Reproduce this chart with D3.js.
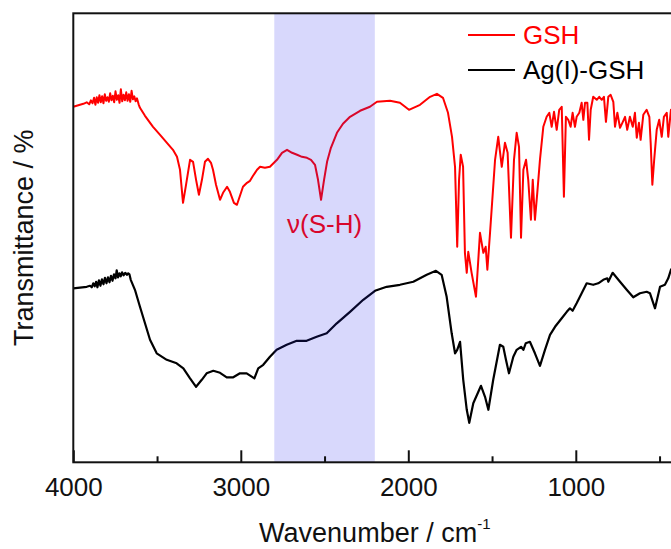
<!DOCTYPE html>
<html>
<head>
<meta charset="utf-8">
<title></title>
<script src="https://cdn.jsdelivr.net/npm/d3@7/dist/d3.min.js"></script>
<style>
  body { margin: 0; background: #fff; }
  svg { display: block; }
  text { font-family: "Liberation Sans", Arial, sans-serif; }
  .tick text { font-size: 26px; fill: #111; }
  .tick line { stroke: #111; stroke-width: 2; }
</style>
</head>
<body>
<script>
// wavenumbers (cm-1) and transmittance (a.u.)
var waveGSH = [4000,3960,3940,3920,3905,3895,3885,3876,3868,3860,3852,3844,3836,3828,3820,3812,3804,3796,3788,3780,
  3772,3764,3756,3748,3740,3732,3724,3716,3708,3700,3692,3684,3676,3668,3660,3652,3644,3636,3628,3620,
  3610,3602,3572,
  3524,3482,3441,3405,3381,3363,3345,3327,3303,3285,3267,3250,3232,3214,3196,3178,3166,3148,3124,3106,
  3082,3065,3041,3023,3005,2987,2963,2945,2927,2903,2885,2856,2826,2784,2754,2724,2694,2664,2635,2605,
  2581,2557,2539,2521,2503,2485,2462,2426,2390,2348,2288,2229,2187,2109,2050,1996,1930,1870,1829,1793,
  1763,1739,1721,1708,1697,1687,1673,1662,1651,1642,1622,1596,1572,1552,1538,1528,1512,1482,1463,1442,
  1423,1407,1387,1369,1353,1339,1327,1313,1297,1284,1268,1257,1244,1230,1214,1194,1174,1158,1144,1130,
  1114,1099,1084,1071,1059,1045,1031,1019,1005,995,979,965,955,945,931,921,911,896,875,860,
  845,832,820,806,792,776,766,752,736,722,706,693,677,660,647,636,623,613,597,577,
  561,553,543,532,517,502,487,474,457,448,432,400];
var tGSH = [71.1,71.5,71.7,72.0,71.6,72.4,71.8,72.9,71.5,73.0,71.9,73.4,72.0,73.2,71.8,73.6,72.3,73.0,72.1,73.8,
  72.4,73.3,72.0,74.2,72.5,73.4,71.9,74.6,72.2,73.5,72.4,74.0,72.3,73.6,72.1,74.3,72.6,73.2,72.2,72.8,
  71.6,70.9,69.3,
  67.1,65.5,63.9,62.5,61.1,58.5,51.9,55.5,60.5,60.1,56.5,53.5,56.5,60.1,60.7,59.9,58.5,55.5,52.5,53.9,
  55.1,54.1,51.9,51.5,53.3,55.1,55.9,56.3,57.3,58.5,59.1,58.9,59.1,60.5,61.9,62.5,61.9,61.5,61.1,60.9,
  60.5,59.5,56.5,52.5,56.5,60.1,62.9,65.9,67.7,69.1,70.3,71.1,72.1,72.3,71.9,70.5,71.5,73.1,73.7,72.9,
  69.9,65.1,59.1,43.1,56.5,61.5,59.1,41.9,37.9,42.1,37.9,33.1,45.9,41.9,43.1,38.5,45.9,60.5,65.1,59.1,
  63.9,61.9,44.9,60.5,65.9,63.1,44.9,58.5,60.5,56.5,48.5,56.5,48.5,53.9,60.5,67.1,69.1,69.9,67.1,70.1,
  66.5,70.5,71.1,53.1,69.1,68.5,67.1,69.9,67.1,69.1,69.9,71.9,68.5,71.9,71.9,64.5,70.5,73.1,72.5,73.1,
  72.5,73.1,68.1,73.1,73.5,72.1,67.1,69.9,66.9,67.9,69.1,66.5,69.1,67.1,69.9,64.9,67.9,64.5,69.5,70.5,
  69.1,63.9,55.5,60.5,66.5,68.5,65.1,69.1,69.9,65.1,70.5,69.0];

var waveAg = [4000,3920,3900,3890,3881,3872,3864,3856,3847,3838,3829,3820,3811,3802,3793,3784,3775,3766,3757,3748,
  3741,3733,3725,3717,3709,3700,3690,3680,3672,3665,3657,3632,3602,3572,3542,3502,
  3442,3383,3343,3303,3267,3233,3204,3164,3124,3084,3045,3005,2965,2919,2896,2866,2826,2786,2726,2666,
  2607,2547,2487,2427,2348,2269,2199,2129,2050,1970,1890,1835,1801,1771,1741,1721,1708,1691,1672,1651,
  1636,1612,1566,1542,1522,1493,1453,1433,1417,1399,1373,1353,1327,1313,1299,1274,1244,1214,1184,1154,
  1124,1084,1054,1035,1019,995,965,935,896,866,836,812,806,780,736,696,657,617,577,557,
  527,497,468,448,432,400];
var tAg = [34.8,35.1,35.3,35.0,35.8,35.2,36.1,35.0,36.4,35.3,36.6,35.6,36.9,35.8,37.0,36.0,37.3,36.3,37.6,36.8,
  38.4,37.0,37.8,37.2,38.0,37.4,37.9,37.5,37.8,37.6,36.5,34.5,31.1,27.8,24.5,21.8,
  20.5,19.8,18.8,16.8,15.1,16.5,17.8,18.3,17.9,17.0,17.0,17.8,17.8,16.8,18.8,19.5,21.1,22.5,23.5,24.3,
  24.3,25.1,25.8,27.8,30.1,32.5,34.3,35.1,35.5,36.1,37.5,38.3,37.5,33.1,25.8,21.8,22.5,24.1,16.5,10.5,
  7.9,11.8,15.3,13.1,10.5,16.5,23.5,23.1,20.5,17.8,21.1,22.5,23.1,22.5,23.8,24.1,21.8,19.3,22.5,25.5,
  27.1,28.8,30.1,30.8,30.3,31.8,33.8,35.8,35.5,35.8,36.5,36.8,36.1,37.9,36.1,34.5,33.0,33.8,34.1,33.8,
  30.8,35.1,35.5,36.8,38.5,40.0];

var seriesNames = ["GSH", "Ag(I)-GSH"];
var seriesColors = ["#ff0000", "#000000"];
var xMajor = [4000, 3000, 2000, 1000];
var xMinor = [3500, 2500, 1500, 500];
var band = [2800, 2200];
var bandLabel = "\u03bd(S-H)";

var width = 671, height = 549;
var margin = {left: 73.3, top: 13.3, right: -5.3, bottom: 86.7};
var plotW = width - margin.left - margin.right;
var plotH = height - margin.top - margin.bottom;

var svg = d3.select("body").append("svg")
    .attr("width", width)
    .attr("height", height);

var x = d3.scaleLinear().domain([4000, 400]).range([0, plotW]);
var y = d3.scaleLinear().domain([0, 89.8]).range([plotH, 0]);

var g = svg.append("g")
    .attr("transform", "translate(" + margin.left + "," + margin.top + ")");

// curves
var line = d3.line()
    .x(function(d){ return x(d[0]); })
    .y(function(d){ return y(d[1]); });

var gsh = waveGSH.map(function(w, i){ return [w, tGSH[i]]; });
var ag = waveAg.map(function(w, i){ return [w, tAg[i]]; });

g.append("path").attr("d", line(ag))
    .attr("fill", "none").attr("stroke", seriesColors[1]).attr("stroke-width", 2.2)
    .attr("stroke-linejoin", "round");
g.append("path").attr("d", line(gsh))
    .attr("fill", "none").attr("stroke", seriesColors[0]).attr("stroke-width", 2)
    .attr("stroke-linejoin", "round");

// label for the S-H band
g.append("text")
    .attr("x", (x(band[0]) + x(band[1])) / 2)
    .attr("y", y(45.8))
    .attr("text-anchor", "middle")
    .attr("font-size", 26)
    .attr("fill", "#ff0000")
    .text(bandLabel);

// shaded region on top (tints the lines like in the original)
g.append("rect")
    .attr("x", x(band[0]))
    .attr("y", 0)
    .attr("width", x(band[1]) - x(band[0]))
    .attr("height", plotH)
    .attr("fill", "rgb(40,40,240)")
    .attr("fill-opacity", 0.18);

// axes
var xAxis = d3.axisBottom(x).tickValues(xMajor).tickSizeInner(-12).tickSizeOuter(0).tickPadding(15)
    .tickFormat(d3.format("d"));
var xAxisMinor = d3.axisBottom(x).tickValues(xMinor).tickSizeInner(-6).tickSizeOuter(0).tickFormat("");

var ax = g.append("g").attr("transform", "translate(0," + plotH + ")").call(xAxis);
ax.select(".domain").remove();
var axm = g.append("g").attr("transform", "translate(0," + plotH + ")").call(xAxisMinor);
axm.select(".domain").remove();

// frame
g.append("rect")
    .attr("x", 0).attr("y", 0)
    .attr("width", plotW).attr("height", plotH)
    .attr("fill", "none").attr("stroke", "#111").attr("stroke-width", 2);

// legend
var legend = g.selectAll(".legend")
    .data(seriesNames)
    .enter().append("g")
    .attr("transform", function(d, i){ return "translate(" + (468 - margin.left) + "," + (35 + i * 35 - margin.top) + ")"; });
legend.append("line")
    .attr("x1", 0).attr("x2", 47).attr("y1", 0).attr("y2", 0)
    .attr("stroke", function(d, i){ return seriesColors[i]; })
    .attr("stroke-width", 2);
legend.append("text")
    .attr("x", 55).attr("y", 9)
    .attr("font-size", 26)
    .attr("fill", function(d, i){ return seriesColors[i]; })
    .text(function(d){ return d; });

// axis titles
var xt = svg.append("text")
    .attr("x", margin.left + plotW / 2)
    .attr("y", 542)
    .attr("text-anchor", "middle")
    .attr("font-size", 27)
    .attr("fill", "#111");
xt.append("tspan").text("Wavenumber / cm");
xt.append("tspan").attr("font-size", 15).attr("dy", -13).text("-1");

svg.append("text")
    .attr("transform", "translate(33," + (margin.top + plotH / 2) + ") rotate(-90)")
    .attr("text-anchor", "middle")
    .attr("font-size", 27)
    .attr("fill", "#111")
    .text("Transmittance / %");
</script>
</body>
</html>
